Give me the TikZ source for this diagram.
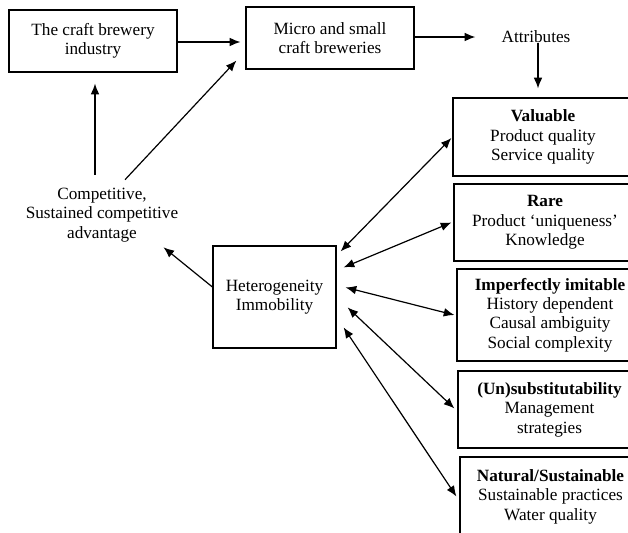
\documentclass[tikz,border=0pt]{standalone}
\usepackage{fontspec}
\setmainfont{Liberation Serif}
\usepackage{tikz}
\usetikzlibrary{arrows.meta, calc}

\begin{document}
\begin{tikzpicture}[x=0.75pt, y=-0.75pt, font=\fontsize{12.9}{14.6}\selectfont]
    \tikzstyle{box}=[draw,line width=0.9pt,text=black,align=center,minimum width=126pt,minimum height=46.5pt]
    \tikzstyle{attrbox}=[draw,line width=0.9pt,text=black,align=center]
    \tikzstyle{plain}=[align=center,inner sep=0pt]
    \tikzstyle{edge} = [draw,line width=0.9pt,-{Latex[length=8pt,width=6.5pt]}]
    \tikzstyle{edge2} = [draw,line width=0.9pt,{Latex[length=8pt,width=6.5pt]}-{Latex[length=8pt,width=6.5pt]}]

    \useasboundingbox (0,0) rectangle (628,532);
    \clip (0,0) rectangle (628,532);

    \node[box] (industry) at (93, 41) {The craft brewery\\industry};
    \node[box] (micro) at (330, 38) {Micro and small\\craft breweries};
    \node[plain] (attr) at (536, 37) {Attributes};
    \node[plain] (comp) at (102, 215) {Competitive,\\Sustained competitive\\advantage};
    \node[box, minimum width=92.25pt, minimum height=76.5pt] (het) at (274.5, 297) {Heterogeneity\\Immobility};

    \node[attrbox, minimum width=135pt, minimum height=58.5pt] (valuable) at (543, 137)
        {\textbf{Valuable}\\Product quality\\Service quality};
    \node[attrbox, minimum width=136.5pt, minimum height=57.75pt] (rare) at (545, 222.5)
        {\textbf{Rare}\\Product `uniqueness'\\Knowledge};
    \node[attrbox, minimum width=139.5pt, minimum height=69pt] (imitable) at (550, 315)
        {\textbf{Imperfectly imitable}\\History dependent\\Causal ambiguity\\Social complexity};
    \node[attrbox, minimum width=137.25pt, minimum height=57.75pt] (subst) at (549.5, 409.5)
        {\textbf{(Un)substitutability}\\Management\\strategies};
    \node[attrbox, minimum width=135.75pt, minimum height=59.25pt] (natural) at (550.5, 496.5)
        {\textbf{Natural/Sustainable}\\Sustainable practices\\Water quality};

    % top row
    \path[edge] ($(industry.east)+(0,1)$) -- ($(micro.west)+(-5,4)$);
    \path[edge] ($(micro.east)+(0,-1)$) -- ($(attr.west)+(-26,0)$);
    \path[edge] (attr.south -| 538,0) -- ($(valuable.north -| 538,0)+(0,-9)$);

    % competitive advantage
    \path[edge] ($(comp.north -| 95,0)+(0,-13)$) -- ($(industry.south -| 95,0)+(0,11)$);
    \path[edge] ($(comp.north)+(23,-8)$) -- ($(micro.south west)+(-9,-9)$);
    \path[edge] ($(het.west)+(0,-10)$) -- ($(comp.south east)+(-15,5)$);

    % attributes and heterogeneity
    \path[edge2] ($(het.north east)+(4,6)$) -- ($(valuable.west)+(-1,1)$);
    \path[edge2] ($(het.north east)+(7,22)$) -- ($(rare.west)+(-2,0)$);
    \path[edge2] ($(het.north east)+(9,42)$) -- ($(imitable.west)+(-2,0)$);
    \path[edge2] ($(het.north east)+(11,62)$) -- ($(subst.west)+(-3,-1)$);
    \path[edge2] ($(het.north east)+(7,82)$) -- ($(natural.west)+(-3,0)$);

    \end{tikzpicture}
\end{document}
